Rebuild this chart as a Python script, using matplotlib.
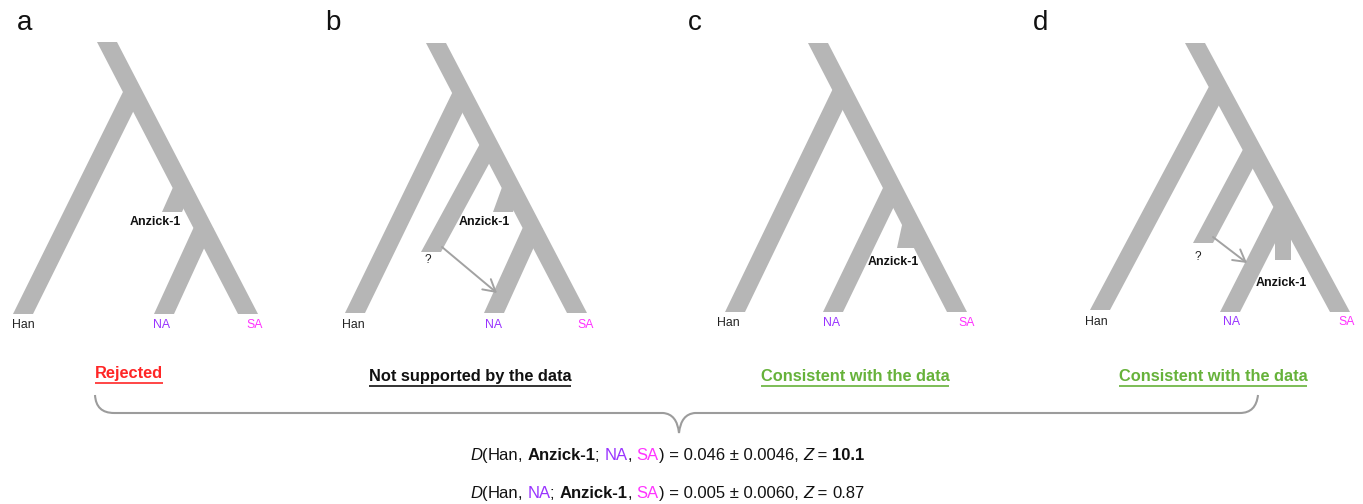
import matplotlib
matplotlib.use('Agg')
import matplotlib.pyplot as plt
from matplotlib.patches import Polygon, FancyArrowPatch, PathPatch
from matplotlib.path import Path

plt.rcParams['font.family'] = ['Liberation Sans', 'DejaVu Sans']

# ---------------- data ----------------
panel_letters = ['a', 'b', 'c', 'd']
leaf_names = ['Han', 'NA', 'SA']
leaf_colors = ['#222222', '#9933FF', '#FF33FF']
sample_name = 'Anzick-1'
ghost_label = '?'
verdicts = ['Rejected', 'Not supported by the data',
            'Consistent with the data', 'Consistent with the data']
verdict_colors = ['#FF2626', '#111111', '#66B23A', '#66B23A']

stat_pops = [('Han', 'Anzick-1', 'NA', 'SA'), ('Han', 'NA', 'Anzick-1', 'SA')]
stat_D = [0.046, 0.005]
stat_se = [0.0046, 0.0060]
stat_Z = ['10.1', '0.87']
stat_Z_bold = [True, False]

# ---------------- layout (pixel geometry of the diagram) ----------------
BW = 20
GRAY = '#b6b6b6'
trees = [
    dict(root=(107, 42), sa=(248, 314), han=(92, (23, 314)), na=(228, (164, 314)),
         anz=(188, (172, 212), 20, None), ghost=None, arrow=None, q=None,
         anz_label=(155, 222), leaf_y=325, leaf_x=(23, 162, 255), letter=(25, 30)),
    dict(root=(436, 43), sa=(577, 313), han=(93, (355, 313)), na=(228, (494, 313)),
         anz=(188, (503, 212), 20, None), ghost=(145, (431, 252)),
         arrow=((442, 247), (497, 293)), q=(428, 260),
         anz_label=(484, 222), leaf_y=325, leaf_x=(353, 493, 586), letter=(333, 30)),
    dict(root=(818, 43), sa=(957, 312), han=(90, (735, 312)), na=(188, (833, 312)),
         anz=(225, (907, 248), 20, None), ghost=None, arrow=None, q=None,
         anz_label=(893, 262), leaf_y=323, leaf_x=(728, 831, 967), letter=(695, 30)),
    dict(root=(1195, 43), sa=(1340, 312), han=(87, (1100, 310)), na=(207, (1230, 312)),
         anz=(207, (1283, 260), 16, 1283), ghost=(150, (1203, 243)),
         arrow=((1213, 237), (1247, 263)), q=(1198, 257),
         anz_label=(1281, 283), leaf_y=322, leaf_x=(1096, 1232, 1347), letter=(1041, 30)),
]

fig = plt.figure(figsize=(13.63, 5.04), dpi=100)
ax = fig.add_axes([0, 0, 1, 1])
ax.set_xlim(0, 1363)
ax.set_ylim(504, 0)
ax.axis('off')


def branch(top, bottom, wt=BW, wb=BW):
    (xt, yt), (xb, yb) = top, bottom
    ax.add_patch(Polygon([(xt - wt / 2, yt), (xt + wt / 2, yt),
                          (xb + wb / 2, yb), (xb - wb / 2, yb)],
                         closed=True, fc=GRAY, ec='none', lw=0))


for i, t in enumerate(trees):
    rx, ry = t['root']
    sx, sy = t['sa']

    def main_x(y):
        return rx + (sx - rx) * (y - ry) / (sy - ry)

    branch((rx, ry), (sx, sy))
    y0, tip = t['han']
    branch((main_x(y0), y0), tip)
    y0, tip = t['na']
    branch((main_x(y0), y0), tip)
    if t['ghost'] is not None:
        y0, tip = t['ghost']
        branch((main_x(y0), y0), tip)
    y0, tip, w, xtop = t['anz']
    branch((main_x(y0) if xtop is None else xtop, y0), tip, w, w)
    if t['arrow'] is not None:
        a, b = t['arrow']
        ax.add_patch(FancyArrowPatch(a, b, arrowstyle='->,head_length=0.7,head_width=0.4',
                                     mutation_scale=12, color='#a2a2a2', lw=1.4,
                                     shrinkA=0, shrinkB=0))
        qx, qy = t['q']
        ax.text(qx, qy, ghost_label, fontsize=8.6, color='#222222', ha='center', va='center')
    for name, col, lx in zip(leaf_names, leaf_colors, t['leaf_x']):
        ax.text(lx, t['leaf_y'], name, fontsize=8.8, color=col, ha='center', va='center')
    ax.text(*t['anz_label'], sample_name, fontsize=8.9, fontweight='bold',
            color='#111111', ha='center', va='center')
    ax.text(*t['letter'], panel_letters[i], fontsize=20, color='#111111',
            ha='center', va='baseline')

renderer = fig.canvas.get_renderer()

# verdicts
verdict_x = [129, 470, 855, 1213]
verdict_base = [378, 381, 381, 381]
for vx, vy, txt, col in zip(verdict_x, verdict_base, verdicts, verdict_colors):
    tt = ax.text(vx, vy, txt, fontsize=11.8, fontweight='bold', color=col,
                 ha='center', va='baseline')
    bb = tt.get_window_extent(renderer)
    ax.plot([vx - bb.width / 2, vx + bb.width / 2], [vy + 4.5, vy + 4.5], color=col, lw=1.2,
            solid_capstyle='butt')

# brace
verts = [(95, 395), (96, 413), (114, 413), (663, 413), (677, 414), (679, 433),
         (681, 414), (695, 413), (1240, 413), (1256, 413), (1258, 395)]
codes = [Path.MOVETO, Path.CURVE3, Path.CURVE3, Path.LINETO, Path.CURVE3, Path.CURVE3,
         Path.CURVE3, Path.CURVE3, Path.LINETO, Path.CURVE3, Path.CURVE3]
ax.add_patch(PathPatch(Path(verts, codes), fc='none', ec='#9c9c9c', lw=1.5))


# D-statistic lines
FS = 12.0


def pwidth(s, **kw):
    t1 = ax.text(0, 0, '|' + s + '|', fontsize=FS, **kw)
    t2 = ax.text(0, 0, '||', fontsize=FS, **kw)
    w = t1.get_window_extent(renderer).width - t2.get_window_extent(renderer).width
    t1.remove()
    t2.remove()
    return w


def seq_text(x, y, pieces):
    for s, kw in pieces:
        ax.text(x, y, s, fontsize=FS, ha='left', va='baseline', **kw)
        x += pwidth(s, **kw)
    return x


color_of = {'Han': dict(color='#111111'), 'NA': dict(color='#9933FF'),
            'SA': dict(color='#FF33FF'), 'Anzick-1': dict(color='#111111', fontweight='bold')}
base = dict(color='#111111')
for k, (pops, D, se, Z, zb) in enumerate(zip(stat_pops, stat_D, stat_se, stat_Z, stat_Z_bold)):
    p1, p2, p3, p4 = pops
    pieces = [('D', dict(base, style='italic')), ('(', base),
              (p1, color_of[p1]), (', ', base), (p2, color_of[p2]), ('; ', base),
              (p3, color_of[p3]), (', ', base), (p4, color_of[p4]),
              (f') = {D:.3f} \u00b1 {se:.4f}, ', base), ('Z', dict(base, style='italic')),
              (' = ', base), (Z, dict(base, fontweight='bold') if zb else base)]
    seq_text(470, [460, 498][k], pieces)

fig.savefig('out.png', dpi=100)
